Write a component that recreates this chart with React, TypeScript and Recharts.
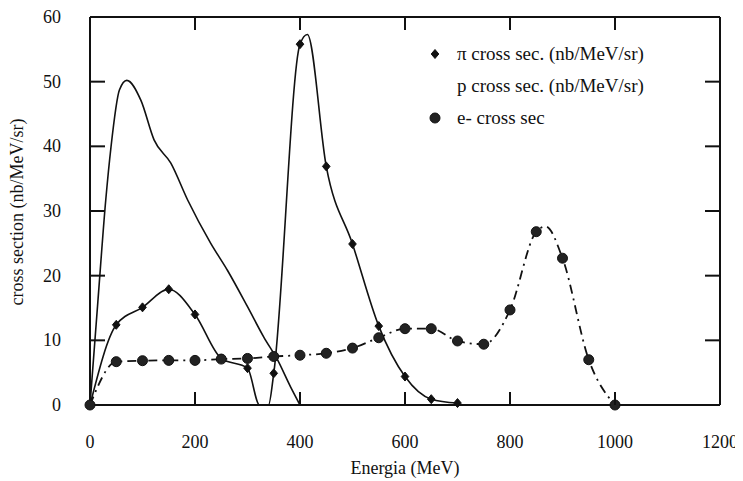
import { Line, LineChart, XAxis, YAxis } from "recharts";

// pi cross section (diamonds) - marked points
const piEnergy = [0, 50, 100, 150, 200, 250, 300, 350, 400, 450, 500, 550, 600, 650, 700];
const piValue = [0, 12.4, 15.1, 17.9, 14.0, 7.2, 5.7, 4.9, 55.8, 36.9, 24.9, 12.2, 4.4, 0.9, 0.3];
// unmarked points that shape the pi curve (zero crossings, peak)
const piShapeEnergy = [323, 340, 414];
const piShapeValue = [0, 0, 57.3];

// p cross section, line only
const pEnergy = [0, 15, 30, 40, 56, 70, 97, 122, 154, 186, 230, 262, 300, 331, 357, 382, 400];
const pValue = [0, 16, 31.7, 39.9, 48.7, 50.2, 47.1, 41, 37.4, 31.7, 25, 20.8, 15.2, 10.5, 7, 2.8, 0];

// e- cross section (circles)
const eEnergy = [0, 50, 100, 150, 200, 250, 300, 350, 400, 450, 500, 550, 600, 650, 700, 750, 800, 850, 900, 950, 1000];
const eValue = [0, 6.7, 6.85, 6.9, 6.9, 7.1, 7.2, 7.5, 7.7, 8.0, 8.8, 10.4, 11.8, 11.8, 9.9, 9.4, 14.7, 26.8, 22.7, 7.0, 0];
const eShapeEnergy = [868];
const eShapeValue = [27.6];

const xTicks = [0, 200, 400, 600, 800, 1000, 1200];
const yTicks = [0, 10, 20, 30, 40, 50, 60];

const legendNames = ["\u03c0 cross sec. (nb/MeV/sr)", "p cross sec. (nb/MeV/sr)", "e- cross sec"];

const INK = "#111";
const FONT = "Liberation Serif, DejaVu Serif, serif";

const build = (xs: number[], ys: number[], sx: number[] = [], sy: number[] = []) =>
  [
    ...xs.map((x, i) => ({ x, y: ys[i], marked: true })),
    ...sx.map((x, i) => ({ x, y: sy[i], marked: false })),
  ].sort((a, b) => a.x - b.x);

const piData = build(piEnergy, piValue, piShapeEnergy, piShapeValue);
const pData = build(pEnergy, pValue);
const eData = build(eEnergy, eValue, eShapeEnergy, eShapeValue);

const Diamond = ({ cx, cy }: any) => (
  <path d={`M${cx},${cy - 4.5} L${cx + 3.8},${cy} L${cx},${cy + 4.5} L${cx - 3.8},${cy} Z`} fill={INK} stroke={INK} strokeWidth={1} />
);

const PiDot = (props: any) =>
  props.payload.marked ? <Diamond key={props.index} cx={props.cx} cy={props.cy} /> : <g key={props.index} />;

const EDot = (props: any) =>
  props.payload.marked ? (
    <circle key={props.index} cx={props.cx} cy={props.cy} r={5} fill="#222" stroke={INK} strokeWidth={1} />
  ) : (
    <g key={props.index} />
  );

const BottomTick = ({ x, y, payload }: any) => (
  <g>
    {payload.value > 0 && payload.value < 1200 && <line x1={x} y1={y} x2={x} y2={y - 13} stroke={INK} strokeWidth={2} />}
    <text x={x} y={y + 43} textAnchor="middle" fontFamily={FONT} fontSize={18} fill={INK}>
      {payload.value}
    </text>
  </g>
);

const TopTick = ({ x, y, payload }: any) =>
  payload.value > 0 && payload.value < 1200 ? (
    <line x1={x} y1={y} x2={x} y2={y + 13} stroke={INK} strokeWidth={2} />
  ) : (
    <g />
  );

const LeftTick = ({ x, y, payload }: any) => (
  <g>
    {payload.value > 0 && payload.value < 60 && <line x1={x} y1={y} x2={x + 15} y2={y} stroke={INK} strokeWidth={2} />}
    <text x={x - 29} y={y + 6} textAnchor="end" fontFamily={FONT} fontSize={18} fill={INK}>
      {payload.value}
    </text>
  </g>
);

const RightTick = ({ x, y, payload }: any) =>
  payload.value > 0 && payload.value < 60 ? (
    <line x1={x} y1={y} x2={x - 15} y2={y} stroke={INK} strokeWidth={2} />
  ) : (
    <g />
  );

const ChartLegend = () => (
  <svg width={300} height={100} style={{ position: "absolute", left: 420, top: 30 }}>
    <Diamond cx={7} cy={16} />
    <circle cx={7} cy={80} r={5} fill="#222" stroke={INK} />
    {legendNames.map((name, i) => (
      <text key={name} x={29} y={16 + i * 32 + 6} fontFamily={FONT} fontSize={19} fill={INK}>
        {name}
      </text>
    ))}
  </svg>
);

export default function App() {
  return (
    <div style={{ position: "relative", width: 735, height: 473 }}>
      <LineChart width={735} height={473} margin={{ top: 8, right: 22, bottom: 0, left: 0 }}>
        <XAxis
          xAxisId="b"
          dataKey="x"
          type="number"
          domain={[0, 1200]}
          ticks={xTicks}
          height={76}
          tickSize={0}
          tickMargin={0}
          tick={<BottomTick />}
          axisLine={{ stroke: INK, strokeWidth: 2 }}
          tickLine={false}
          allowDuplicatedCategory={false}
          label={{
            content: () => (
              <text x={397} y={466} textAnchor="middle" fontFamily={FONT} fontSize={18} fill={INK}>
                Energia (MeV)
              </text>
            ),
          }}
        />
        <XAxis
          xAxisId="t"
          orientation="top"
          dataKey="x"
          type="number"
          domain={[0, 1200]}
          ticks={xTicks}
          height={1}
          tickSize={0}
          tickMargin={0}
          tick={<TopTick />}
          axisLine={{ stroke: INK, strokeWidth: 2 }}
          tickLine={false}
        />
        <YAxis
          yAxisId="l"
          type="number"
          domain={[0, 60]}
          ticks={yTicks}
          width={82}
          tickSize={0}
          tickMargin={0}
          tick={<LeftTick />}
          axisLine={{ stroke: INK, strokeWidth: 2 }}
          tickLine={false}
          label={{
            content: () => (
              <text
                transform="translate(15,204) rotate(-90)"
                x={0}
                y={0}
                textAnchor="middle"
                fontFamily={FONT}
                fontSize={18}
                fill={INK}
              >
                cross section (nb/MeV/sr)
              </text>
            ),
          }}
        />
        <YAxis
          yAxisId="r"
          orientation="right"
          type="number"
          domain={[0, 60]}
          ticks={yTicks}
          width={1}
          tickSize={0}
          tickMargin={0}
          tick={<RightTick />}
          axisLine={{ stroke: INK, strokeWidth: 2 }}
          tickLine={false}
        />
        {/* invisible series so the top and right frame axes get drawn */}
        <Line
          xAxisId="t"
          yAxisId="r"
          data={pData}
          dataKey="y"
          stroke="none"
          dot={false}
          legendType="none"
          isAnimationActive={false}
        />
        <Line
          xAxisId="b"
          yAxisId="l"
          data={pData}
          dataKey="y"
          name={legendNames[1]}
          type="monotone"
          stroke={INK}
          strokeWidth={1.6}
          dot={false}
          isAnimationActive={false}
        />
        <Line
          xAxisId="b"
          yAxisId="l"
          data={piData}
          dataKey="y"
          name={legendNames[0]}
          type="monotone"
          stroke={INK}
          strokeWidth={1.6}
          dot={PiDot}
          isAnimationActive={false}
        />
        <Line
          xAxisId="b"
          yAxisId="l"
          data={eData}
          dataKey="y"
          name={legendNames[2]}
          type="monotone"
          stroke={INK}
          strokeWidth={1.8}
          strokeDasharray="9 5 2 5"
          dot={EDot}
          isAnimationActive={false}
        />
      </LineChart>
      <ChartLegend />
    </div>
  );
}
